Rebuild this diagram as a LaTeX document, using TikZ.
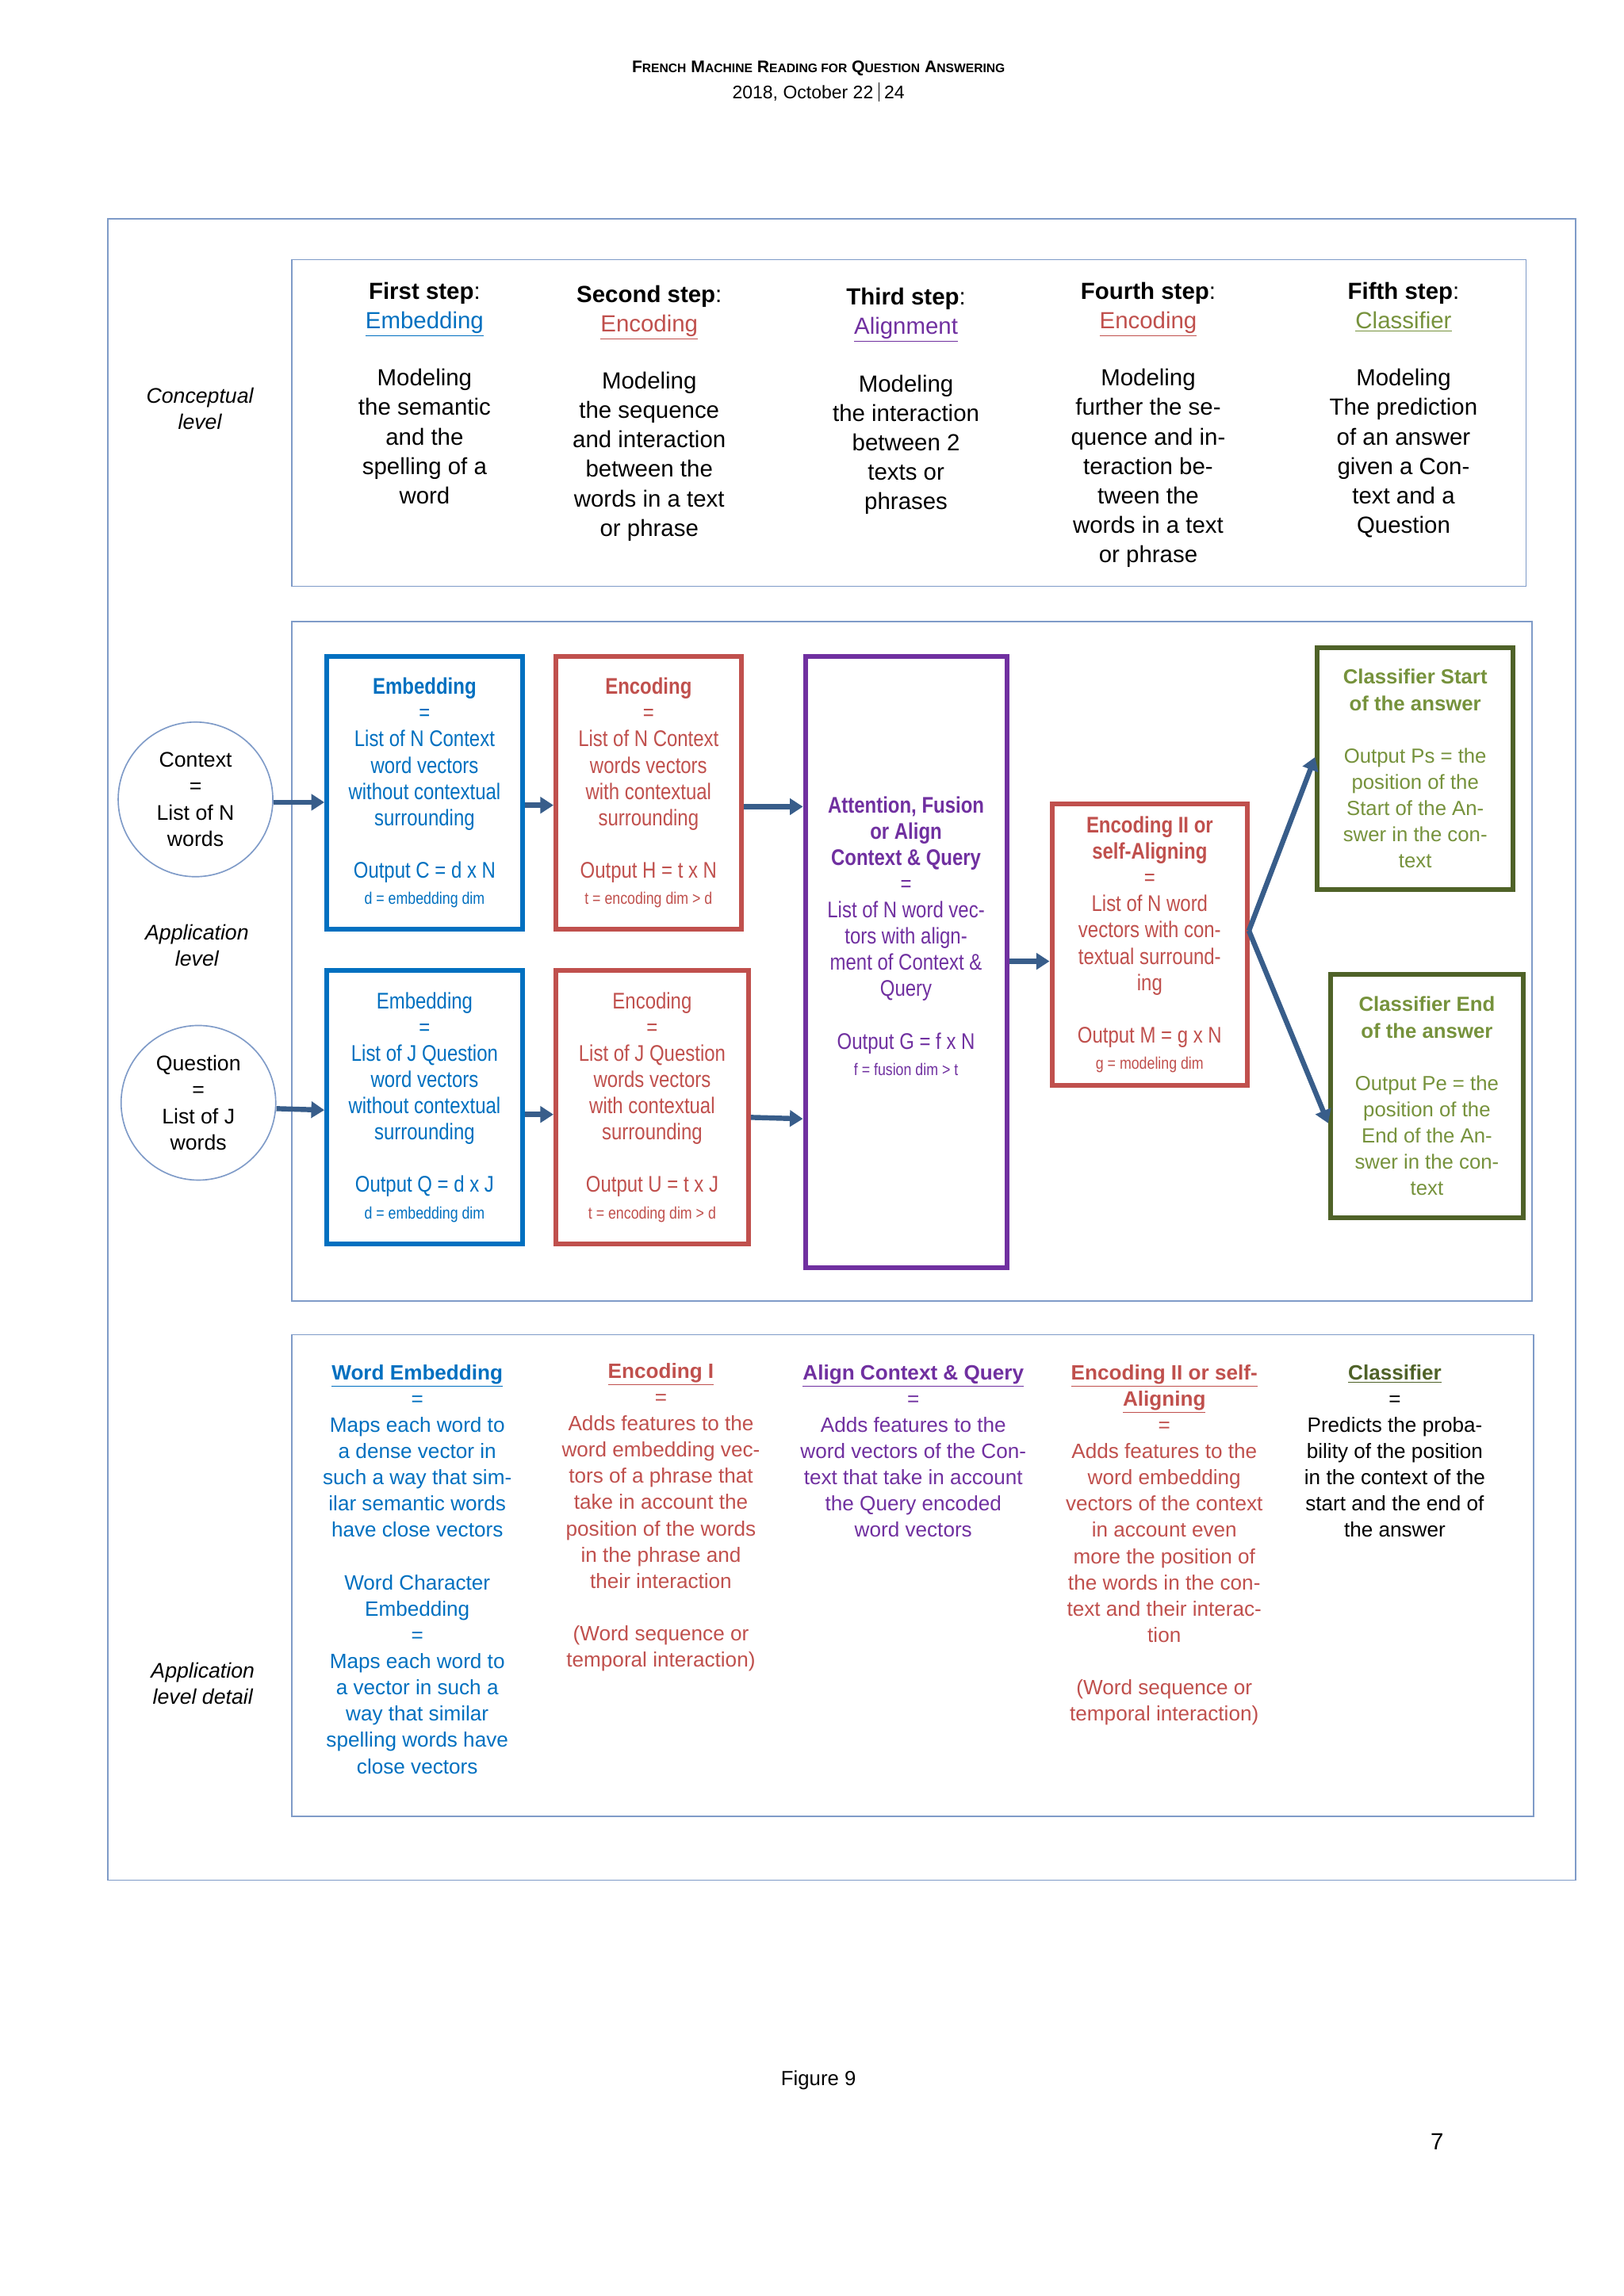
\documentclass[tikz,border=0pt]{standalone}
\usepackage{fontspec}
\setmainfont{Liberation Sans}
\newfontfamily\cond{Liberation Sans}[FakeStretch=0.84]
\usetikzlibrary{arrows.meta}
\definecolor{cblue}{HTML}{0070C0}
\definecolor{cred}{HTML}{C0504D}
\definecolor{cpurple}{HTML}{7030A0}
\definecolor{cgreen}{HTML}{76923C}
\definecolor{cdgreen}{HTML}{4F6228}
\definecolor{frame}{HTML}{7F9BC8}
\definecolor{arr}{HTML}{385D8A}
\newcommand{\hsc}[2]{#1{\fontsize{8.5}{10}\selectfont #2}}
\begin{document}
\begin{tikzpicture}[x=1pt,y=-1pt,
  frm/.style={draw=frame,line width=0.9pt},
  box/.style={draw,line width=3.3pt,inner sep=0pt,align=center,font=\cond\fontsize{15.5}{18}\selectfont},
  cbox/.style={draw,line width=3.3pt,inner sep=0pt,align=center,font=\fontsize{14}{18}\selectfont},
  concept/.style={align=center,font=\fontsize{16}{20.2}\selectfont,anchor=north},
  detail/.style={align=center,font=\fontsize{14.2}{18}\selectfont,anchor=north},
  lev/.style={align=center,font=\itshape\fontsize{14.5}{18}\selectfont},
  circ/.style={draw=frame,line width=0.9pt,circle,minimum size=106pt,inner sep=0pt,align=center,font=\fontsize{14.5}{18}\selectfont},
  ar/.style={draw=arr,line width=3.5pt,-{Triangle[length=9pt,width=11pt]}}]
\useasboundingbox[fill=white] (0,0) rectangle (1113,1574);
\node[font=\bfseries\fontsize{11.5}{13}\selectfont] (h1) at (561,47) {\hsc{F}{RENCH} \hsc{M}{ACHINE} \hsc{R}{EADING FOR} \hsc{Q}{UESTION} \hsc{A}{NSWERING}};
\node[font=\fontsize{12.5}{14}\selectfont] (h2) at (561,63) {2018, October 22 \rule[-2pt]{0.6pt}{13pt} 24};
\draw[frm] (74,150) rectangle (1080,1289);
\draw[frm] (200,178) rectangle (1046,402);
\draw[frm] (200,426) rectangle (1050,892);
\draw[frm] (200,915) rectangle (1051,1245);
\node[lev] (l1) at (137,280) {Conceptual\\level};
\node[lev] (l2) at (135,648) {Application\\level};
\node[lev] (l3) at (139,1154) {Application\\level detail};
% conceptual
\node[concept] (c1) at (291,190) {\textbf{First step}:\\\textcolor{cblue}{\underline{Embedding}}\\[19pt]Modeling\\the semantic\\and the\\spelling of a\\word};
\node[concept] (c2) at (445,192) {\textbf{Second step}:\\\textcolor{cred}{\underline{Encoding}}\\[19pt]Modeling\\the sequence\\and interaction\\between the\\words in a text\\or phrase};
\node[concept] (c3) at (621,194) {\textbf{Third step}:\\\textcolor{cpurple}{\underline{Alignment}}\\[19pt]Modeling\\the interaction\\between 2\\texts or\\phrases};
\node[concept] (c4) at (787,190) {\textbf{Fourth step}:\\\textcolor{cred}{\underline{Encoding}}\\[19pt]Modeling\\further the se-\\quence and in-\\teraction be-\\tween the\\words in a text\\or phrase};
\node[concept] (c5) at (962,190) {\textbf{Fifth step}:\\\textcolor{cgreen}{\underline{Classifier}}\\[19pt]Modeling\\The prediction\\of an answer\\given a Con-\\text and a\\Question};
% application
\node[circ] (ctx) at (134,548) {Context\\=\\List of N\\words};
\node[circ] (qst) at (136,756) {Question\\=\\List of J\\words};
\node[box,draw=cblue,text=cblue,minimum width=134pt,minimum height=187pt] (emb1) at (291,543.5) {\textbf{Embedding}\\=\\List of N Context\\word vectors\\without contextual\\surrounding\\[18pt]Output C = d x N\\{\fontsize{11.5}{13}\selectfont d = embedding dim}};
\node[box,draw=cred,text=cred,minimum width=127pt,minimum height=187pt] (enc1) at (444.5,543.5) {\textbf{Encoding}\\=\\List of N Context\\words vectors\\with contextual\\surrounding\\[18pt]Output H = t x N\\{\fontsize{11.5}{13}\selectfont t = encoding dim > d}};
\node[box,draw=cblue,text=cblue,minimum width=134pt,minimum height=188pt] (emb2) at (291,759) {Embedding\\=\\List of J Question\\word vectors\\without contextual\\surrounding\\[18pt]Output Q = d x J\\{\fontsize{11.5}{13}\selectfont d = embedding dim}};
\node[box,draw=cred,text=cred,minimum width=132pt,minimum height=188pt] (enc2) at (447,759) {Encoding\\=\\List of J Question\\words vectors\\with contextual\\surrounding\\[18pt]Output U = t x J\\{\fontsize{11.5}{13}\selectfont t = encoding dim > d}};
\node[box,draw=cpurple,text=cpurple,minimum width=138pt,minimum height=419pt] (att) at (621,659.5) {\textbf{Attention, Fusion}\\\textbf{or Align}\\\textbf{Context \& Query}\\=\\List of N word vec-\\tors with align-\\ment of Context \&\\Query\\[18pt]Output G = f x N\\{\fontsize{11.5}{13}\selectfont f = fusion dim > t}\\[18pt]};
\node[box,draw=cred,text=cred,minimum width=134pt,minimum height=193pt] (enc3) at (788,647.5) {\textbf{Encoding II or}\\\textbf{self-Aligning}\\=\\List of N word\\vectors with con-\\textual surround-\\ing\\[18pt]Output M = g x N\\{\fontsize{11.5}{13}\selectfont g = modeling dim}};
\node[cbox,draw=cdgreen,text=cgreen,minimum width=134pt,minimum height=166pt] (cls1) at (970,527) {\textbf{Classifier Start}\\\textbf{of the answer}\\[18pt]Output Ps = the\\position of the\\Start of the An-\\swer in the con-\\text};
\node[cbox,draw=cdgreen,text=cgreen,minimum width=132pt,minimum height=167pt] (cls2) at (978,751.5) {\textbf{Classifier End}\\\textbf{of the answer}\\[18pt]Output Pe = the\\position of the\\End of the An-\\swer in the con-\\text};
\draw[ar] (ctx.east |- 0,550) -- (emb1.west |- 0,550);
\draw[ar] (emb1.east |- 0,552) -- (enc1.west |- 0,552);
\draw[ar] (enc1.east |- 0,553) -- (att.west |- 0,553);
\draw[ar] (qst.east |- 0,760) -- (emb2.west |- 0,761);
\draw[ar] (emb2.east |- 0,764) -- (enc2.west |- 0,764);
\draw[ar] (enc2.east |- 0,766) -- (att.west |- 0,767);
\draw[ar] (att.east |- 0,659) -- (enc3.west |- 0,659);
\coordinate (sp) at (856,638);
\draw[ar] (sp) -- (cls1.west |- 0,519);
\draw[ar] (sp) -- (cls2.west |- 0,770);
% detail
\node[detail,text=cblue] (d1) at (286,932) {\textbf{\underline{Word Embedding}}\\=\\Maps each word to\\a dense vector in\\such a way that sim-\\ilar semantic words\\have close vectors\\[18pt]Word Character\\Embedding\\=\\Maps each word to\\a vector in such a\\way that similar\\spelling words have\\close vectors};
\node[detail,text=cred] (d2) at (453,931) {\textbf{\underline{Encoding I}}\\=\\Adds features to the\\word embedding vec-\\tors of a phrase that\\take in account the\\position of the words\\in the phrase and\\their interaction\\[18pt](Word sequence or\\temporal interaction)};
\node[detail,text=cpurple] (d3) at (626,932) {\textbf{\underline{Align Context \& Query}}\\=\\Adds features to the\\word vectors of the Con-\\text that take in account\\the Query encoded\\word vectors};
\node[detail,text=cred] (d4) at (798,932) {\textbf{\underline{Encoding II or self-}}\\\textbf{\underline{Aligning}}\\=\\Adds features to the\\word embedding\\vectors of the context\\in account even\\more the position of\\the words in the con-\\text and their interac-\\tion\\[18pt](Word sequence or\\temporal interaction)};
\node[detail,text=black] (d5) at (956,932) {\textcolor{cdgreen}{\textbf{\underline{Classifier}}}\\=\\Predicts the proba-\\bility of the position\\in the context of the\\start and the end of\\the answer};
\node[font=\fontsize{14}{16}\selectfont] (fig) at (561,1426) {Figure 9};
\node[font=\fontsize{16}{18}\selectfont] (pg) at (985,1468) {7};
\end{tikzpicture}
\end{document}
